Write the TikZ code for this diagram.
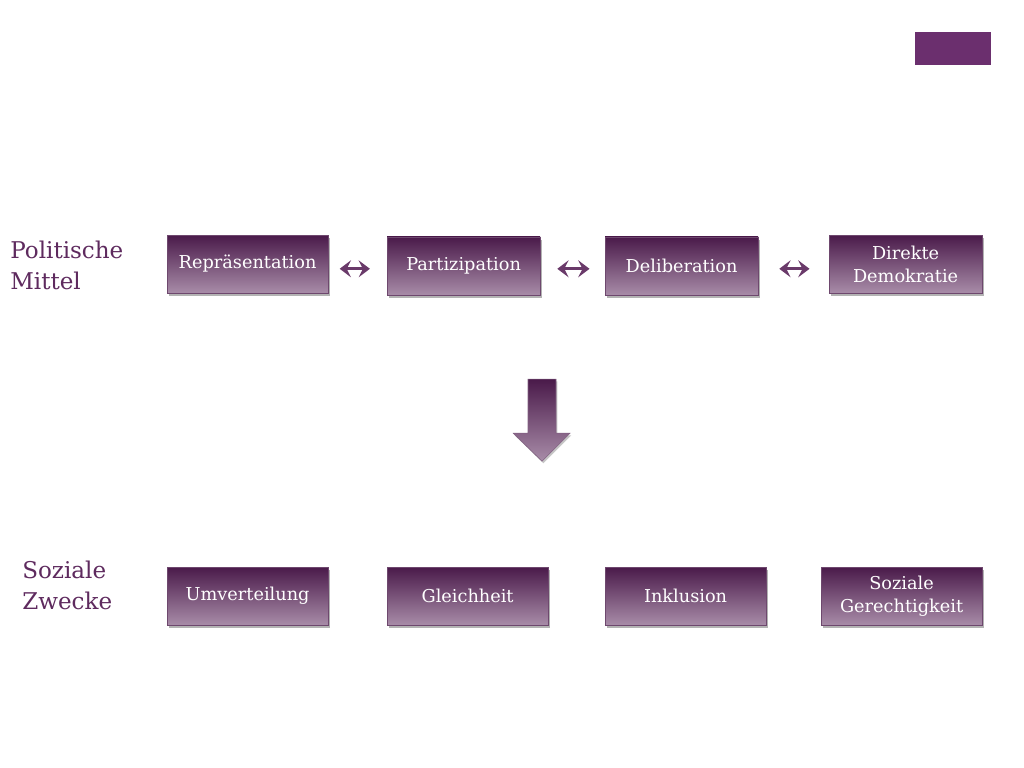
\documentclass[tikz,border=0pt]{standalone}
\usepackage{fontspec}
\setmainfont{DejaVu Serif}
\usetikzlibrary{arrows.meta, positioning, calc, shadows}

\definecolor{plumdark}{HTML}{4A1A4A}
\definecolor{plumlight}{HTML}{A88CA8}
\definecolor{plumtext}{HTML}{5E2A5E}
\definecolor{plumarrow}{HTML}{6A3A6A}
\definecolor{plumcorner}{HTML}{6B2F6E}

\tikzset{
  goalbox/.style={rectangle, minimum height=1.45cm, inner sep=2pt,
    top color=plumdark, bottom color=plumlight, draw=plumdark!80, line width=0.4pt,
    text=white, font=\fontsize{12.6}{16.5}\selectfont, align=center,
    drop shadow={opacity=0.6, shadow xshift=1.5pt, shadow yshift=-2pt}},
  rowlabel/.style={text=plumtext, font=\fontsize{16.4}{22}\selectfont, align=left, anchor=north west, inner sep=0pt},
  swap/.style={<->, plumarrow, line width=2.4pt}
}

\begin{document}
\begin{tikzpicture}[>={Stealth[length=8pt, width=12pt, inset=3pt]}]
  \useasboundingbox (0,0) rectangle (25.6,-19.2);

  % corner mark
  \fill[plumcorner] (22.88,-0.8) rectangle (24.78,-1.63);

  % row labels
  \node[rowlabel] (mittel) at (0.25,-6.02) {Politische\\Mittel};
  \node[rowlabel] (zwecke) at (0.55,-14.02) {Soziale\\Zwecke};

  % political means
  \node[goalbox, minimum width=4.03cm] (rep) at (6.19,-6.6) {Repräsentation};
  \node[goalbox, minimum width=3.83cm] (par) at (11.59,-6.65) {Partizipation};
  \node[goalbox, minimum width=3.83cm] (del) at (17.04,-6.65) {Deliberation};
  \node[goalbox, minimum width=3.83cm] (dir) at (22.64,-6.6) {Direkte\\Demokratie};

  % social ends
  \node[goalbox, minimum width=4.03cm] (umv) at (6.19,-14.9) {Umverteilung};
  \node[goalbox, minimum width=4.03cm] (gle) at (11.69,-14.9) {Gleichheit};
  \node[goalbox, minimum width=4.03cm] (ink) at (17.14,-14.9) {Inklusion};
  \node[goalbox, minimum width=4.03cm] (ger) at (22.54,-14.9) {Soziale\\Gerechtigkeit};

  % two-way arrows
  \draw[swap, shorten <=0.28cm, shorten >=0.42cm] (rep.east |- 0,-6.72) -- (par.west |- 0,-6.72);
  \draw[swap, shorten <=0.42cm, shorten >=0.38cm] (par.east |- 0,-6.72) -- (del.west |- 0,-6.72);
  \draw[swap, shorten <=0.52cm, shorten >=0.48cm] (del.east |- 0,-6.72) -- (dir.west |- 0,-6.72);

  % block arrow down
  \shade[top color=plumdark, bottom color=plumlight, draw=plumdark!70, line width=0.4pt,
    drop shadow={opacity=0.45, shadow xshift=1pt, shadow yshift=-1.5pt}]
    (13.2,-9.48) -- (13.9,-9.48) -- (13.9,-10.83) -- (14.25,-10.83)
    -- (13.55,-11.53) -- (12.83,-10.83) -- (13.2,-10.83) -- cycle;
\end{tikzpicture}
\end{document}
